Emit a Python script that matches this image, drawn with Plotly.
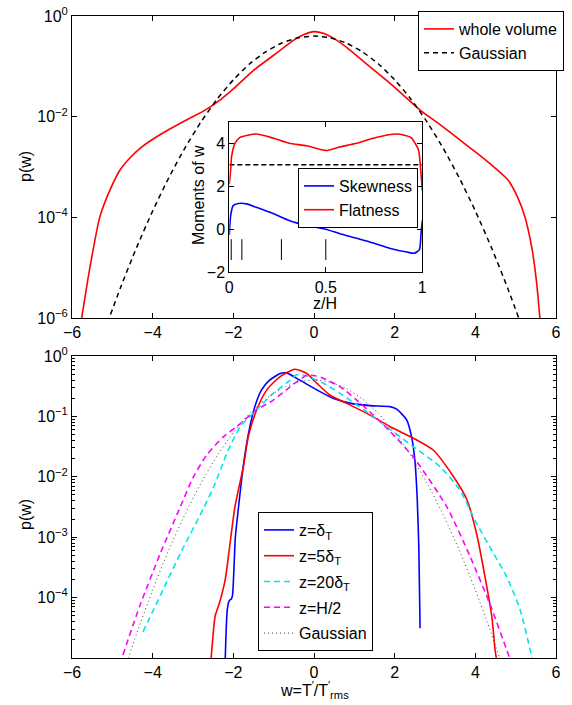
import plotly.graph_objects as go

# ---------------- data ----------------
# top panel: whole-volume PDF
whole_w = [-5.76, -5.55, -5.31, -5.06, -4.81, -4.6, -4.3, -3.8, -3.2, -2.7, -2.3, -2.0, -1.5,
           -1.0, -0.5, -0.25, 0.0, 0.25, 0.5, 0.8, 1.3, 1.8, 2.2, 2.63, 3.2, 3.87, 4.4, 4.81,
           5.05, 5.23, 5.4, 5.52, 5.6]
whole_p = [1e-6, 1.07e-5, 1.02e-4, 3.47e-4, 8.7e-4, 1.41e-3, 2.4e-3, 4.47e-3, 8.3e-3, 0.0135,
           0.0224, 0.0355, 0.0832, 0.166, 0.331, 0.427, 0.49, 0.447, 0.355, 0.24, 0.112,
           0.0525, 0.0275, 0.0135, 6.3e-3, 2.4e-3, 1.1e-3, 5.5e-4, 2.5e-4, 1.02e-4, 2.5e-5,
           5e-6, 1e-6]

# Gaussian reference curve (sampled)
gauss_w = [-5.2, -4.8, -4.4, -4.0, -3.6, -3.2, -2.8, -2.4, -2.0, -1.6, -1.2, -0.8, -0.4, 0.0,
           0.4, 0.8, 1.2, 1.6, 2.0, 2.4, 2.8, 3.2, 3.6, 4.0, 4.4, 4.8, 5.2]
gauss_p = [5.36e-7, 3.96e-6, 2.5e-5, 1.34e-4, 6.12e-4, 2.38e-3, 7.92e-3, 0.0224, 0.054, 0.111,
           0.194, 0.29, 0.368, 0.399, 0.368, 0.29, 0.194, 0.111, 0.054, 0.0224, 7.92e-3,
           2.38e-3, 6.12e-4, 1.34e-4, 2.5e-5, 3.96e-6, 5.36e-7]

# inset: moments vs z/H
flat_z = [0, 0.007, 0.012, 0.03, 0.055, 0.14, 0.23, 0.31, 0.40, 0.5, 0.57, 0.66, 0.76, 0.87,
          0.94, 0.98, 0.99, 1.0]
flat_v = [2.09, 2.78, 3.39, 4.0, 4.27, 4.43, 4.23, 4.0, 3.88, 3.66, 3.82, 4.0, 4.27, 4.43,
          4.27, 3.7, 2.93, 1.8]
skew_z = [0, 0.007, 0.02, 0.047, 0.09, 0.14, 0.23, 0.31, 0.40, 0.5, 0.57, 0.66, 0.75, 0.83,
          0.92, 0.96, 0.985, 0.993, 1.0]
skew_v = [-0.27, 0.64, 1.1, 1.2, 1.18, 1.02, 0.72, 0.41, 0.18, 0.0, -0.2, -0.42, -0.65, -0.88,
          -1.06, -1.11, -0.95, -0.27, 0.41]
gauss_flatness = 3.0
station_z = [0.01, 0.065, 0.27, 0.5]
station_span = [-0.46, -1.43]

# bottom panel: PDFs at several heights
d1_w = [-2.2, -2.15, -2.1, -2.05, -2.02, -1.95, -1.88, -1.75, -1.59, -1.45, -1.3, -1.1, -0.84,
        -0.68, -0.35, 0.07, 0.47, 0.89, 1.39, 1.88, 2.05, 2.30, 2.42, 2.5, 2.56, 2.6, 2.63]
d1_p = [1e-5, 6.3e-5, 8.9e-5, 9.5e-5, 1.1e-4, 1e-3, 2.8e-3, 0.0158, 0.0676, 0.158, 0.275,
        0.398, 0.513, 0.525, 0.398, 0.275, 0.2, 0.166, 0.151, 0.145, 0.132, 0.087, 0.0457,
        0.019, 4.2e-3, 6.2e-4, 3.1e-5]

d5_w = [-2.55, -2.5, -2.45, -2.35, -2.2, -2.1, -1.96, -1.75, -1.63, -1.42, -1.17, -0.84, -0.47,
        -0.18, 0.07, 0.40, 0.89, 1.39, 1.89, 2.46, 2.96, 3.46, 3.79, 4.03, 4.24, 4.41, 4.49, 4.52]
d5_p = [1e-5, 2.5e-5, 5e-5, 7.9e-5, 2e-4, 6.3e-4, 3.2e-3, 0.0148, 0.0457, 0.129, 0.275, 0.457,
        0.603, 0.513, 0.355, 0.224, 0.155, 0.105, 0.0676, 0.0437, 0.0275, 0.01, 4.2e-3, 1.15e-3,
        2.2e-4, 4.8e-5, 1.35e-5, 1e-5]

d20_w = [-4.24, -3.8, -3.3, -2.74, -2.45, -2.16, -1.83, -1.42, -1.01, -0.59, -0.43, -0.18, 0.23,
         0.65, 1.06, 1.47, 1.64, 2.46, 3.12, 3.62, 4.03, 4.45, 4.78, 5.11, 5.36, 5.4]
d20_p = [2.7e-5, 1.12e-4, 5.6e-4, 3.0e-3, 7.8e-3, 0.0245, 0.0676, 0.129, 0.24, 0.398, 0.49,
         0.468, 0.355, 0.24, 0.155, 0.1, 0.081, 0.0316, 0.0148, 6.0e-3, 1.7e-3, 5.4e-4, 2.2e-4,
         6.3e-5, 1.35e-5, 1e-5]

dh_w = [-4.74, -4.3, -3.8, -3.35, -2.99, -2.66, -2.25, -1.92, -1.42, -1.01, -0.59, -0.18, 0.05,
        0.23, 0.65, 1.06, 1.47, 1.89, 2.46, 3.29, 3.87, 4.36, 4.78, 4.85]
dh_p = [1.12e-5, 7.9e-5, 5.6e-4, 2.8e-3, 0.01, 0.0229, 0.0457, 0.0676, 0.129, 0.186, 0.309,
        0.479, 0.468, 0.427, 0.309, 0.186, 0.105, 0.0562, 0.0214, 3.2e-3, 4.8e-4, 7.9e-5,
        1.35e-5, 1e-5]

x_ticks = [-6, -4, -2, 0, 2, 4, 6]
top_yticks = [1e-6, 1e-4, 1e-2, 1]
top_ylabels = ["10<sup>−6</sup>", "10<sup>−4</sup>", "10<sup>−2</sup>", "10<sup>0</sup>"]
bot_yticks = [1e-4, 1e-3, 1e-2, 1e-1, 1]
bot_ylabels = ["10<sup>−4</sup>", "10<sup>−3</sup>", "10<sup>−2</sup>", "10<sup>−1</sup>", "10<sup>0</sup>"]

# ---------------- figure ----------------
W, H = 572, 705
FONT = "Liberation Sans, Arial, sans-serif"
fig = go.Figure()

def px_x(p):
    return p / W

def px_y(p):
    return 1 - p / H

spl = dict(shape="spline", smoothing=0.6)

# top panel
fig.add_trace(go.Scatter(x=whole_w, y=whole_p, mode="lines", name="whole volume",
                         line=dict(color="#ff0000", width=1.6, **spl), xaxis="x", yaxis="y",
                         legend="legend"))
fig.add_trace(go.Scatter(x=gauss_w, y=gauss_p, mode="lines", name="Gaussian",
                         line=dict(color="black", width=1.5, dash="5px,4px", **spl),
                         xaxis="x", yaxis="y", legend="legend"))

# inset (white background patch so it hides the main curves)
fig.add_trace(go.Scatter(x=[0, 1, 1, 0, 0], y=[-2, -2, 5, 5, -2], mode="lines", fill="toself",
                         fillcolor="white", line=dict(width=0, color="white"),
                         showlegend=False, hoverinfo="skip", xaxis="x3", yaxis="y3"))
fig.add_trace(go.Scatter(x=[0, 1], y=[gauss_flatness, gauss_flatness], mode="lines",
                         showlegend=False, line=dict(color="black", width=1.3, dash="5px,3px"),
                         xaxis="x3", yaxis="y3"))
sx, sy = [], []
for z in station_z:
    sx += [z, z, None]
    sy += [station_span[0], station_span[1], None]
fig.add_trace(go.Scatter(x=sx, y=sy, mode="lines", showlegend=False,
                         line=dict(color="black", width=1), xaxis="x3", yaxis="y3"))
fig.add_trace(go.Scatter(x=skew_z, y=skew_v, mode="lines", name="Skewness",
                         line=dict(color="#0000ff", width=1.6, **spl), xaxis="x3", yaxis="y3",
                         legend="legend2"))
fig.add_trace(go.Scatter(x=flat_z, y=flat_v, mode="lines", name="Flatness",
                         line=dict(color="#ff0000", width=1.6, **spl), xaxis="x3", yaxis="y3",
                         legend="legend2"))

# bottom panel
bottom = [
    (d1_w, d1_p, "z=δ<sub>T</sub>", "#0000ff", None, 1.6),
    (d5_w, d5_p, "z=5δ<sub>T</sub>", "#ff0000", None, 1.6),
    (d20_w, d20_p, "z=20δ<sub>T</sub>", "#00e5ee", "6px,4px", 1.6),
    (dh_w, dh_p, "z=H/2", "#ff00ff", "6px,4px", 1.6),
    (gauss_w, gauss_p, "Gaussian", "#444444", "1px,3px", 1.0),
]
for i, (xw, yp, nm, col, dash, lw) in enumerate(bottom):
    ld = dict(color=col, width=lw, **spl)
    if dash:
        ld["dash"] = dash
    fig.add_trace(go.Scatter(x=xw, y=yp, mode="lines", name=nm, line=ld, xaxis="x2",
                             yaxis="y2", legend="legend3", legendgroup=f"g{i}"))

ax_common = dict(showline=True, linecolor="black", linewidth=1, mirror="ticks", ticks="inside",
                 ticklen=5, tickcolor="black", showgrid=False, zeroline=False,
                 automargin=False, ticklabeloverflow="allow",
                 tickfont=dict(family=FONT, size=16, color="black"))

top_dom_y = [px_y(318), px_y(16)]
bot_dom_y = [px_y(658), px_y(356)]
main_dom_x = [px_x(72), px_x(556)]

fig.update_layout(
    width=W, height=H, margin=dict(l=0, r=0, t=0, b=0),
    paper_bgcolor="white", plot_bgcolor="white",
    font=dict(family=FONT, size=16, color="black"),
    xaxis=dict(domain=main_dom_x, anchor="y", range=[-6, 6], tickvals=x_ticks, **ax_common),
    yaxis=dict(domain=top_dom_y, anchor="x", type="log", range=[-6, 0], tickvals=top_yticks,
               ticktext=top_ylabels, **ax_common),
    xaxis2=dict(domain=main_dom_x, anchor="y2", range=[-6, 6], tickvals=x_ticks, **ax_common),
    yaxis2=dict(domain=bot_dom_y, anchor="x2", type="log", range=[-5, 0], tickvals=bot_yticks,
                ticktext=bot_ylabels,
                minor=dict(ticks="inside", ticklen=3, tickcolor="black", dtick="D1",
                           showgrid=False),
                **ax_common),
    xaxis3=dict(domain=[px_x(229.3), px_x(422.3)], anchor="y3", range=[0, 1],
                tickvals=[0, 0.5, 1], ticktext=["0", "0.5", "1"], **ax_common),
    yaxis3=dict(domain=[px_y(272.3), px_y(121.7)], anchor="x3", range=[-2, 5],
                tickvals=[-2, 0, 2, 4], **ax_common),
    legend=dict(x=px_x(564), xanchor="right", y=px_y(11), yanchor="top",
                bgcolor="white", bordercolor="black", borderwidth=1,
                font=dict(family=FONT, size=16), itemwidth=30, tracegroupgap=0),
    legend2=dict(x=px_x(418), xanchor="right", y=px_y(168), yanchor="top",
                 bgcolor="white", bordercolor="black", borderwidth=1,
                 font=dict(family=FONT, size=16), itemwidth=30),
    legend3=dict(x=px_x(258), xanchor="left", y=px_y(512), yanchor="top",
                 bgcolor="white", bordercolor="black", borderwidth=1,
                 font=dict(family=FONT, size=16), itemwidth=30, tracegroupgap=2),
)

ann = [
    dict(text="p(w)", x=px_x(25), y=px_y(167), textangle=-90),
    dict(text="p(w)", x=px_x(25), y=px_y(515), textangle=-90),
    dict(text="Moments of w", x=px_x(198), y=px_y(195), textangle=-90),
    dict(text="z/H", x=px_x(325), y=px_y(304)),
    dict(text="w=T<sup>′</sup>/T<sup>′</sup><sub>rms</sub>", x=px_x(314), y=px_y(690)),
]
for a in ann:
    fig.add_annotation(xref="paper", yref="paper", showarrow=False, xanchor="center",
                       yanchor="middle", font=dict(family=FONT, size=16, color="black"), **a)

# remove the browser's default 8px body margin so the figure fills the window exactly
fig.write_html("out.html", config={"displayModeBar": False},
               post_script="document.body.style.margin='0';")
